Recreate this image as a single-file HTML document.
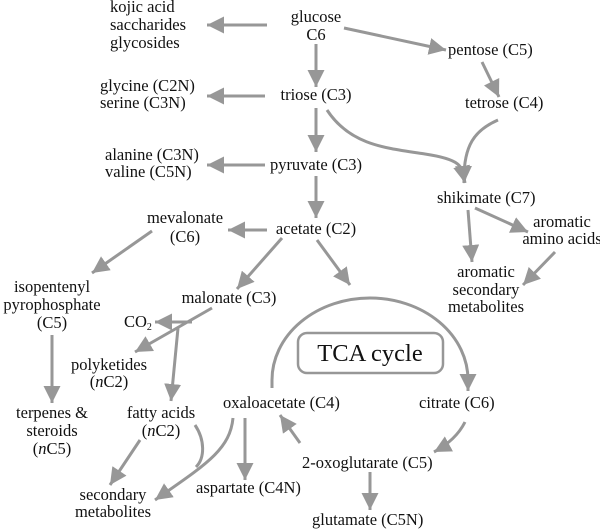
<!DOCTYPE html>
<html><head><meta charset="utf-8"><style>
html,body{margin:0;padding:0;background:#fff;}
svg{display:block;}
text{font-family:"Liberation Serif","Times New Roman",serif;font-size:16.5px;fill:#111;}
.m{text-anchor:middle;}
.a{stroke:#979797;stroke-width:3;fill:none;}
</style></head><body>
<svg width="600" height="530" viewBox="0 0 600 530" xmlns="http://www.w3.org/2000/svg">
<defs>
<marker id="ah" markerUnits="userSpaceOnUse" markerWidth="17" markerHeight="17" refX="16" refY="8" orient="auto" viewBox="0 0 16 16">
<path d="M0,0 L16,8 L0,16 z" fill="#979797"/>
</marker>
</defs>

<!-- arrows -->
<g class="a" marker-end="url(#ah)">
<line x1="267" y1="25" x2="207" y2="25"/>
<line x1="265" y1="96" x2="207" y2="96"/>
<line x1="265" y1="165" x2="207" y2="165"/>
<line x1="316" y1="44" x2="316" y2="87"/>
<line x1="316" y1="108" x2="316" y2="152"/>
<line x1="316" y1="176" x2="316" y2="218"/>
<line x1="344" y1="28" x2="446" y2="50"/>
<line x1="482" y1="62" x2="499" y2="97"/>
<path d="M327,110 C350,145 385,148 425,154 S462,168 465,183"/>
<path d="M498,120 C475,130 463,145 464,183"/>
<line x1="468" y1="210" x2="472" y2="262"/>
<line x1="475" y1="208" x2="528" y2="232"/>
<line x1="555" y1="252" x2="523" y2="285"/>
<line x1="267" y1="230" x2="228" y2="230"/>
<line x1="152" y1="231" x2="92" y2="273"/>
<line x1="282" y1="238" x2="237" y2="289"/>
<line x1="317" y1="240" x2="350" y2="285"/>
<line x1="52" y1="335" x2="52" y2="403"/>
<line x1="212" y1="308" x2="135" y2="352"/>
<line x1="192" y1="322" x2="155" y2="322"/>
<line x1="178" y1="328" x2="171" y2="401"/>
<line x1="140" y1="440" x2="110" y2="485"/>
<line x1="245" y1="418" x2="245" y2="480"/>
<path d="M233,418 C230,450 205,465 155,500"/>
<line x1="300" y1="443" x2="280" y2="415"/>
<path d="M465,422 Q456,440 434,452"/>
<line x1="370" y1="472" x2="370" y2="510"/>
<path d="M272,388 L272,380 A98,82 0 0 1 468,380 L468,391"/>
</g>
<path class="a" d="M195,425 C205,440 205,458 196,467"/>

<!-- TCA box -->
<rect x="298" y="333" width="145" height="40" rx="9" ry="9" fill="none" stroke="#979797" stroke-width="2.5"/>
<text x="370" y="361" class="m" style="font-size:24.5px">TCA cycle</text>

<!-- labels -->
<text x="110" y="12">kojic acid</text>
<text x="110" y="30">saccharides</text>
<text x="110" y="48">glycosides</text>

<text x="316" y="22" class="m">glucose</text>
<text x="316" y="40" class="m">C6</text>

<text x="448" y="55">pentose (C5)</text>
<text x="465" y="108">tetrose (C4)</text>

<text x="316" y="100" class="m">triose (C3)</text>
<text x="100" y="91">glycine (C2N)</text>
<text x="100" y="108">serine (C3N)</text>

<text x="316" y="170" class="m">pyruvate (C3)</text>
<text x="105" y="160">alanine (C3N)</text>
<text x="105" y="177">valine (C5N)</text>

<text x="437" y="203">shikimate (C7)</text>
<text x="562" y="227" class="m">aromatic</text>
<text x="562" y="244" class="m">amino acids</text>
<text x="486" y="277" class="m">aromatic</text>
<text x="486" y="295" class="m">secondary</text>
<text x="486" y="312" class="m">metabolites</text>

<text x="316" y="234" class="m">acetate (C2)</text>
<text x="185" y="223" class="m">mevalonate</text>
<text x="185" y="242" class="m">(C6)</text>

<text x="52" y="292" class="m">isopentenyl</text>
<text x="52" y="310" class="m">pyrophosphate</text>
<text x="52" y="328" class="m">(C5)</text>

<text x="229" y="303" class="m">malonate (C3)</text>
<text x="124" y="327">CO<tspan style="font-size:10px" dy="3">2</tspan></text>

<text x="109" y="370" class="m">polyketides</text>
<text x="109" y="387" class="m">(<tspan font-style="italic">n</tspan>C2)</text>

<text x="52" y="418" class="m">terpenes &amp;</text>
<text x="52" y="436" class="m">steroids</text>
<text x="52" y="454" class="m">(<tspan font-style="italic">n</tspan>C5)</text>

<text x="161" y="418" class="m">fatty acids</text>
<text x="161" y="436" class="m">(<tspan font-style="italic">n</tspan>C2)</text>

<text x="223" y="408">oxaloacetate (C4)</text>
<text x="419" y="408">citrate (C6)</text>
<text x="196" y="493">aspartate (C4N)</text>
<text x="302" y="468">2-oxoglutarate (C5)</text>
<text x="312" y="525">glutamate (C5N)</text>

<text x="113" y="500" class="m">secondary</text>
<text x="113" y="517" class="m">metabolites</text>
</svg>
</body></html>
